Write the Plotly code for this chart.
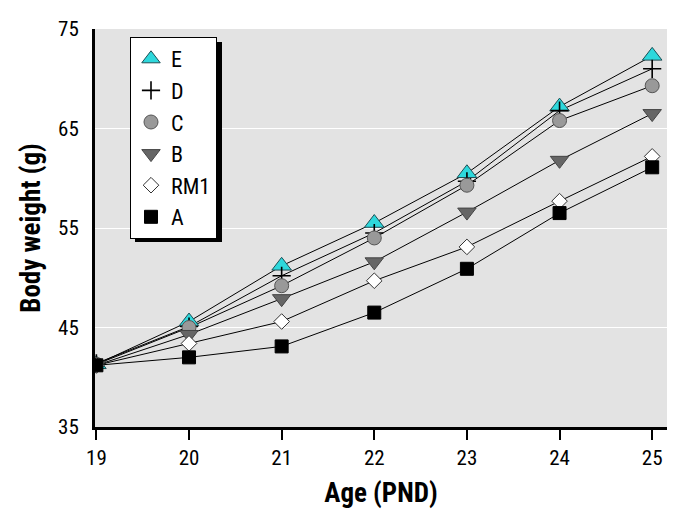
import plotly.graph_objects as go

ages = [19, 20, 21, 22, 23, 24, 25]
series_names = ["E", "D", "C", "B", "RM1", "A"]
E = [41.3, 45.6, 51.2, 55.5, 60.5, 67.2, 72.3]
D = [41.4, 45.1, 50.2, 54.5, 59.7, 66.8, 71.0]
C = [41.3, 45.0, 49.2, 54.0, 59.3, 65.8, 69.3]
B = [41.2, 44.3, 47.9, 51.6, 56.6, 61.8, 66.5]
RM1 = [41.2, 43.4, 45.6, 49.7, 53.1, 57.7, 62.2]
A = [41.2, 42.0, 43.1, 46.5, 50.9, 56.5, 61.1]
y_ticks = [35, 45, 55, 65, 75]
x_ticks = [19, 20, 21, 22, 23, 24, 25]

values = {"E": E, "D": D, "C": C, "B": B, "RM1": RM1, "A": A}
styles = {
    "E": dict(symbol="triangle-up", size=17, color="#2ED8DC", line=dict(color="#1F4F55", width=1)),
    "D": dict(symbol="cross-thin", size=13, color="black", line=dict(color="black", width=1.6)),
    "C": dict(symbol="circle", size=14, color="#999999", line=dict(color="#555555", width=1)),
    "B": dict(symbol="triangle-down", size=16, color="#666666", line=dict(color="#444444", width=1)),
    "RM1": dict(symbol="diamond", size=12, color="white", line=dict(color="#333333", width=1)),
    "A": dict(symbol="square", size=13, color="black", line=dict(color="black", width=1)),
}

FONT = "Liberation Sans Narrow, Arial Narrow, Roboto Condensed, Roboto, sans-serif"

fig = go.Figure()
for name in series_names:
    fig.add_trace(go.Scatter(x=ages, y=values[name], mode="lines",
                             line=dict(color="black", width=1), showlegend=False,
                             hoverinfo="skip"))
for name in series_names:
    fig.add_trace(go.Scatter(x=ages, y=values[name], mode="markers", name=name,
                             marker=styles[name]))

# page body has an 8px default margin; screen coords = figure coords + 8
OFF = 8
W, H = 686 - 2 * OFF, 517 - 2 * OFF
L, T = 95 - OFF, 29 - OFF
R = W - (667 - OFF)
Bm = H - (427 - OFF)
pw, ph = W - L - R, H - T - Bm

def px_x(px):
    return (px - OFF - L) / pw

def px_y(py):
    return (H - Bm - (py - OFF)) / ph

# legend shadow
fig.add_shape(type="rect", xref="paper", yref="paper",
              x0=px_x(135), x1=px_x(222), y0=px_y(242), y1=px_y(42),
              fillcolor="black", line=dict(width=0), layer="above")

fig.update_layout(
    width=W, height=H,
    margin=dict(l=L, r=R, t=T, b=Bm, autoexpand=False),
    paper_bgcolor="white",
    plot_bgcolor="#E3E3E3",
    font=dict(family=FONT, size=21, color="black"),
    showlegend=True,
    legend=dict(x=px_x(130), y=px_y(37), xanchor="left", yanchor="top",
                bgcolor="white", bordercolor="black", borderwidth=1,
                font=dict(family=FONT, size=22), traceorder="normal",
                itemclick=False, itemwidth=30),
    xaxis=dict(range=[18.985, 25.16], tickvals=x_ticks, ticks="outside",
               ticklen=10, tickwidth=1.5, tickcolor="black",
               showline=True, linecolor="black", linewidth=3,
               showgrid=False, zeroline=False,
               title=dict(text="<b>Age (PND)</b>", font=dict(family=FONT, size=27), standoff=14)),
    yaxis=dict(range=[35, 75], tickvals=y_ticks, ticks="",
               showline=True, linecolor="black", linewidth=3,
               showgrid=True, gridcolor="white", gridwidth=1,
               zeroline=False, ticklabelstandoff=9,
               title=dict(text="<b>Body weight (g)</b>", font=dict(family=FONT, size=27), standoff=10)),
)

fig.write_html("out.html")
